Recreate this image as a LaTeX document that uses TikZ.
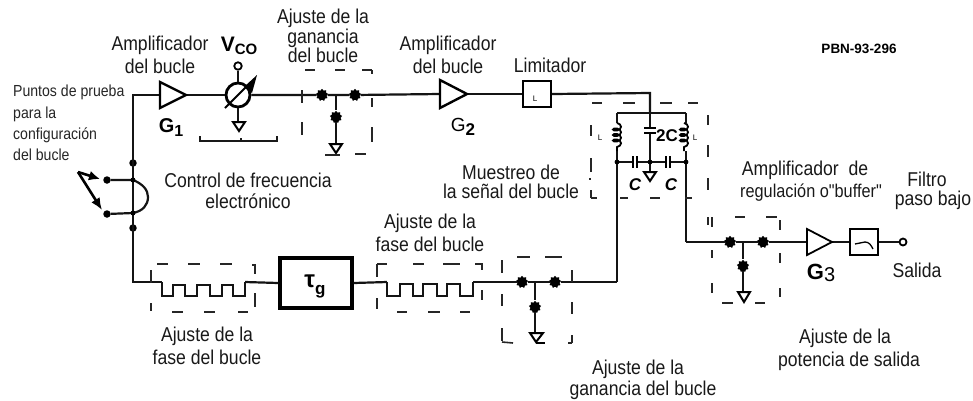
\documentclass[tikz,border=0pt]{standalone}
\usepackage{fontspec}
\usetikzlibrary{shapes.geometric,arrows.meta,decorations.pathmorphing}
\setmainfont{Liberation Sans}
\newfontfamily\narrowf[FakeStretch=0.88]{Liberation Sans}
\tikzset{
  wire/.style={line width=2.2pt,black!92},
  thinwire/.style={line width=1.5pt,black!90},
  dsh/.style={line width=1.6pt,black!85},
  ampl/.style={draw=black,line width=2.4pt,fill=white,line join=miter},
  gnd/.style={draw=black,line width=2pt,fill=white},
  blob/.style={star,star points=9,star point ratio=1.35,fill=black,inner sep=0pt,minimum size=12.5pt},
  tdot/.style={circle,fill=black,inner sep=0pt,minimum size=7.5pt},
  box/.style={draw=black,fill=white,inner sep=0pt},
  lab/.style={font=\narrowf\fontsize{20}{22.5}\selectfont,align=center,inner sep=0pt,black!90},
  tight/.style={font=\narrowf\fontsize{20}{16.5}\selectfont,align=center,inner sep=0pt,black!90},
  coil/.style={decorate,decoration={coil,aspect=0.6,segment length=5.5pt,amplitude=4pt},line width=1.8pt},
  gain/.style={font=\bfseries\fontsize{20}{20}\selectfont,inner sep=0pt},
}
\begin{document}
\begin{tikzpicture}[x=1pt,y=-1pt]
\useasboundingbox[fill=white] (0,0) rectangle (973,400);

% named points on the circuit
\coordinate (tl) at (133,95);
\coordinate (bl) at (133,282);
\coordinate (g1i) at (160,95); \coordinate (g1o) at (186,95);
\coordinate (g2i) at (440,94); \coordinate (g2o) at (467,94);
\coordinate (g3i) at (807,242); \coordinate (g3o) at (832,242);
\coordinate (jsu) at (133,180); \coordinate (jsl) at (133,213);
\coordinate (apex) at (78,172);
\coordinate (j1) at (336,95);
\coordinate (g1b) at (336,144);
\coordinate (j2) at (535,282);
\coordinate (g2b) at (535,333);
\coordinate (j3) at (743,242);
\coordinate (g3b) at (743,292);
\coordinate (turn) at (650,93);
\coordinate (railc) at (650,113);
\coordinate (raill) at (617,113);
\coordinate (railr) at (686,113);
\coordinate (midc) at (650,162);
\coordinate (midl) at (617,162);
\coordinate (midr) at (686,162);
\coordinate (botl) at (617,282);
\coordinate (botr) at (686,242);
\coordinate (m1s) at (162,282); \coordinate (m1e) at (245,282);
\coordinate (m2s) at (387,282); \coordinate (m2e) at (473,282);
\coordinate (vcob) at (238,122);
\coordinate (gndc) at (650,172);

% nodes
\node[circle,draw=black,line width=2.8pt,fill=white,minimum size=24pt,inner sep=0pt] (vco) at (238,95) {};
\node[circle,draw=black,line width=1.8pt,fill=white,minimum size=7.5pt,inner sep=0pt] (vcot) at (238,66) {};
\node[box,line width=2.4pt,minimum width=28pt,minimum height=26pt] (lim) at (537,94) {};
\node[box,line width=3.2pt,minimum width=72pt,minimum height=50pt] (tau) at (316,283) {};
\node[box,line width=2.4pt,minimum width=28pt,minimum height=26pt] (filt) at (864,242) {};
\node[circle,draw=black,line width=1.8pt,fill=white,minimum size=7pt,inner sep=0pt] (out) at (903,242) {};
\node[tdot] (d1) at (133,163) {};
\node[tdot] (d2) at (133,228) {};
\node[tdot] (su) at (107,180) {};
\node[tdot] (sl) at (107,214) {};
\node[blob] (b1) at (322,95) {};
\node[blob] (b2) at (355,95) {};
\node[blob] (b3) at (336,117) {};
\node[blob] (b4) at (522,282) {};
\node[blob] (b5) at (555,282) {};
\node[blob] (b6) at (535,307) {};
\node[blob] (b7) at (730,242) {};
\node[blob] (b8) at (763,242) {};
\node[blob] (b9) at (743,266) {};

% wires
\draw[wire] (g1i) -- (tl) -- (bl) -- (m1s);
\draw[wire] (g1o) -- (vco);
\draw[wire] (vco) -- (b1) -- (b2) -- (g2i);
\draw[wire] (g2o) -- (lim);
\draw[wire] (lim.east) -- (turn) -- (railc);
\draw[wire] (raill) -- (railr);
\draw[wire] (midl) -- (midr);
\draw[wire] (railc) -- (gndc);
\draw[wire] (raill) -- (617,123);
\draw[wire] (617,151) -- (midl);
\draw[wire] (railr) -- (686,123);
\draw[wire] (686,151) -- (midr);
\draw[wire] (midl) -- (botl);
\draw[wire] (midr) -- (botr);
\draw[wire] (botr) -- (b7) -- (b8) -- (g3i);
\draw[wire] (g3o) -- (filt);
\draw[wire] (filt) -- (out);
\draw[wire] (j1) -- (b3) -- (g1b);
\draw[wire] (j2) -- (b6) -- (g2b);
\draw[wire] (j3) -- (b9) -- (g3b);
\draw[wire] (tau.east) -- (m2s);
\draw[wire] (m1e) -- (tau.west);
\draw[wire] (m2e) -- (b4) -- (b5) -- (botl);
\draw[wire] (vcot) -- (vco);
\draw[wire] (vco) -- (vcob);
% switch
\draw[wire] (su) -- (jsu) .. controls (143,184) and (148,190) .. (148,197) .. controls (148,205) and (143,211) .. (jsl) -- (sl);
% meanders
\draw[wire,line join=miter] (m1s) -- (162,296) -- (173,296) -- (173,285) -- (185,285) -- (185,296) -- (197,296) -- (197,285) -- (210,285) -- (210,296) -- (222,296) -- (222,285) -- (233,285) -- (233,296) -- (245,296) -- (m1e);
\draw[wire,line join=miter] (m2s) -- (387,296) -- (400,296) -- (400,284) -- (413,284) -- (413,296) -- (423,296) -- (423,284) -- (437,284) -- (437,296) -- (447,296) -- (447,284) -- (460,284) -- (460,296) -- (473,296) -- (m2e);
\node[tdot,minimum size=5pt] at (jsu) {};
\node[tdot,minimum size=5pt] at (jsl) {};

% switch arrows
\draw[line width=2.6pt,-{Latex[length=11pt,width=10pt]}] (apex) -- (100,179);
\draw[line width=2.6pt,-{Latex[length=12pt,width=10pt]}] (apex) -- (102,210);

% amplifiers
\draw[ampl] (g1i) ++(0,-13) -- (g1o) -- (160,108) -- cycle;
\draw[ampl] (g2i) ++(0,-14) -- (g2o) -- (440,108) -- cycle;
\draw[ampl,line width=1.8pt] (g3i) ++(0,-13) -- (g3o) -- (807,255) -- cycle;

% ground triangles
\draw[gnd] (233,122) -- (245,122) -- (239,131) -- cycle;
\draw[gnd] (330,144) -- (342,144) -- (336,153) -- cycle;
\draw[gnd] (530,333) -- (543,333) -- (536,342) -- cycle;
\draw[gnd] (536,343) -- (545,343);
\draw[gnd] (644,172) -- (656,172) -- (650,181) -- cycle;
\draw[gnd] (738,292) -- (750,292) -- (744,302) -- cycle;

% VCO tuning slash
\draw[line width=2pt] (225,108) -- (250,83);
\fill (244,87) -- (257,75) -- (252,93) -- cycle;

% VCO bracket
\draw[thinwire] (200,136) -- (200,141) -- (277,141) -- (277,136);
\draw[thinwire] (241,141) -- (241,138);

% coils
\draw[coil] (617,123) -- (617,151);
\draw[coil] (684,123) -- (684,151);

% capacitors
\fill[white] (647,128.5) rectangle (653,132.5);
\draw[line width=2pt] (644,128) -- (656,128) (644,133) -- (656,133);
\fill[white] (633,158) rectangle (637,166);
\draw[line width=2pt] (633,156) -- (633,168) (637,156) -- (637,168);
\fill[white] (666,158) rectangle (670,166);
\draw[line width=2pt] (666,156) -- (666,168) (670,156) -- (670,168);
\foreach \p in {(617,162),(686,162),(650,162)} \fill \p circle (2.4pt);

% filter glyph
\draw[line width=1.3pt] (855,244) -- (865,242) .. controls (869,242) and (871,245) .. (873,249);

% dashed enclosures
\foreach \a/\b/\c/\d in {
 305/70/315/70, 335/70/345/70, 362/70/372/70, 372/70/372/74,
 302/90/302/103, 302/122/302/135, 372/98/372/107, 372/127/372/142,
 325/155/340/155, 355/154/366/154,
 592/103/602/103, 623/103/635/103, 660/103/672/103, 688/103/698/103,
 591/125/591/136, 591/158/591/172, 590/178/590/180, 591/190/591/198, 591/198/597/198,
 708/115/708/125, 708/145/708/157, 708/178/708/190, 708/217/708/225,
 620/198/628/198, 650/198/660/198, 685/198/692/198,
 735/217/745/217, 766/217/777/217,
 712/217/712/227, 712/250/712/258, 712/283/712/293,
 780/220/780/230, 780/253/780/263, 780/288/780/297,
 722/303/733/303, 755/303/765/303,
 157/264/168/264, 188/264/200/264, 220/264/232/264, 252/265/256/265, 255/265/255/274,
 151/270/151/283, 151/303/151/311, 255/293/255/307,
 172/312/183/312, 204/312/215/312, 238/312/248/312,
 377/264/377/277, 377/264/387/264, 377/298/377/309,
 413/264/424/264, 443/264/460/264, 475/264/483/264, 482/264/482/270, 482/290/482/300,
 397/312/407/312, 428/312/440/312, 460/312/470/312,
 502/260/502/273, 502/294/502/306, 502/328/502/341, 502/342/513/343,
 517/257/530/257, 545/257/562/257,
 572/270/572/282, 572/302/572/314, 572/335/572/343, 572/343/568/343}
 {\draw[dsh] (\a,\b) -- (\c,\d);}

% box contents
\node[font=\fontsize{8}{8}\selectfont,inner sep=0pt] (limL) at (535,99) {L};
\node[font=\bfseries\fontsize{24}{24}\selectfont,inner sep=0pt] (taug) at (315,286) {τ\raisebox{-7pt}{\fontsize{17}{17}\selectfont g}};

% labels
\node[font=\narrowf\fontsize{16}{21.3}\selectfont,align=left,anchor=north west,inner sep=0pt,black!85] (lpp) at (13,85) {Puntos de prueba\\para la\\configuración\\del bucle};
\node[lab] (la1) at (160,55) {Amplificador\\del bucle};
\node[font=\bfseries\fontsize{21}{21}\selectfont,inner sep=0pt] (lv) at (239,46) {V\raisebox{-3pt}{\fontsize{15}{15}\selectfont CO}};
\node[gain] (lg1) at (171,128) {G\raisebox{-4pt}{\fontsize{16}{16}\selectfont 1}};
\node[tight] (la2) at (323,36) {Ajuste de la\\ganancia\\del bucle};
\node[lab,font=\narrowf\fontsize{20}{20.5}\selectfont] (la3) at (248,191) {Control de frecuencia\\electrónico};
\node[lab] (la4) at (448,55) {Amplificador\\del bucle};
\node[font=\fontsize{19}{19}\selectfont,inner sep=0pt] (lg2) at (463,127) {G\raisebox{-4pt}{\fontsize{17}{17}\selectfont\bfseries 2}};
\node[lab] (la5) at (550,65) {Limitador};
\node[lab,font=\narrowf\fontsize{20}{19.5}\selectfont] (la6) at (511,182) {Muestreo de\\la señal del bucle};
\node[font=\fontsize{8}{8}\selectfont,inner sep=0pt] (cL1) at (600,138) {L};
\node[font=\fontsize{8}{8}\selectfont,inner sep=0pt] (cL2) at (695,138) {L};
\node[font=\bfseries\fontsize{17}{17}\selectfont,inner sep=0pt] (c2c) at (667,136) {2C};
\node[font=\bfseries\itshape\fontsize{17}{17}\selectfont,inner sep=0pt] (c1) at (635,185) {C};
\node[font=\bfseries\itshape\fontsize{17}{17}\selectfont,inner sep=0pt] (c2) at (671,185) {C};
\node[lab] (la7) at (430,233) {Ajuste de la\\fase del bucle};
\node[lab] (la8) at (207,346) {Ajuste de la\\fase del bucle};
\node[lab,font=\narrowf\fontsize{20}{21}\selectfont] (la9) at (643,380) {\hspace{-10pt}Ajuste de la\\ganancia del bucle};
\node[lab,font=\narrowf\fontsize{20}{23.5}\selectfont] (la10) at (849,350) {\hspace{-8pt}Ajuste de la\\potencia de salida};
\node[lab] (la11) at (805,170) {Amplificador~ de};
\node[font=\narrowf\fontsize{18.5}{18.5}\selectfont,inner sep=0pt,black!90] (la12) at (811,193) {regulación o"buffer"};
\node[lab,font=\narrowf\fontsize{20}{19}\selectfont] (la13) at (933,191) {\hspace{-12pt}Filtro\\paso bajo};
\node[font=\fontsize{22}{22}\selectfont,inner sep=0pt] (lg3) at (821,273) {\textbf{G}\raisebox{-2pt}{\fontsize{20}{20}\selectfont 3}};
\node[lab] (la14) at (917,270) {Salida};
\node[font=\bfseries\fontsize{13.5}{13.5}\selectfont,inner sep=0pt] (lpbn) at (859,49) {PBN-93-296};
\end{tikzpicture}
\end{document}
